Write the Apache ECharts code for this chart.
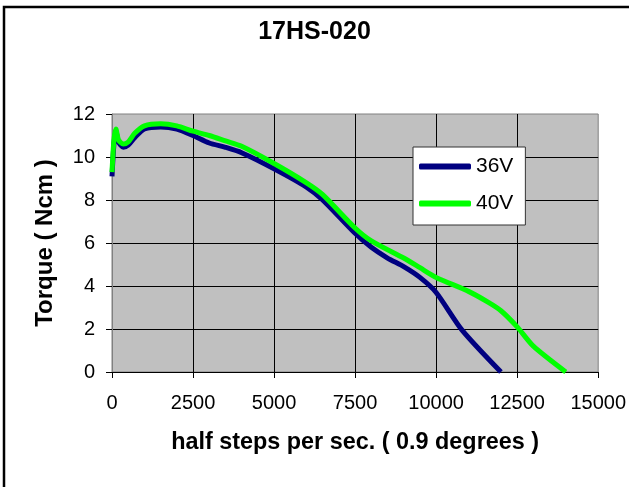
<!DOCTYPE html>
<html>
<head>
<meta charset="utf-8">
<script src="https://cdn.jsdelivr.net/npm/echarts@6/dist/echarts.min.js"></script>
<style>
    html, body { margin: 0; padding: 0; background: #fff; }
    #chart { width: 629px; height: 487px; }
</style>
</head>
<body>
<div id="chart"></div>
<script>
// torque curve
const speed36 = [0, 60, 120, 200, 350, 500, 700, 1000, 1500, 2000, 2500, 3000, 3500, 4000, 5000, 6000, 6500, 7500, 8000, 8500, 9000, 9500, 10000, 10800, 12000];
const torque36 = [9.1, 10.6, 11.2, 10.7, 10.45, 10.55, 10.9, 11.3, 11.4, 11.3, 11.0, 10.65, 10.45, 10.2, 9.45, 8.6, 8.0, 6.45, 5.8, 5.3, 4.9, 4.4, 3.7, 1.95, 0];

const speed40 = [0, 60, 120, 200, 350, 500, 700, 1000, 1500, 2000, 2500, 3000, 3500, 4000, 5000, 6000, 6500, 7500, 8000, 9000, 9500, 10000, 11000, 11600, 12000, 12500, 13000, 14000];
const torque40 = [9.3, 10.8, 11.3, 10.8, 10.6, 10.7, 11.1, 11.45, 11.55, 11.45, 11.2, 11.0, 10.75, 10.5, 9.7, 8.8, 8.25, 6.7, 6.1, 5.3, 4.85, 4.4, 3.75, 3.25, 2.85, 2.1, 1.2, 0];

const FONT = 'Liberation Sans';

const chart = echarts.init(document.getElementById('chart'));

const pairs = (xs, ys) => xs.map((x, i) => [x, ys[i]]);

chart.setOption({
    animation: false,
    textStyle: { fontFamily: FONT },
    title: {
        text: '17HS-020',
        left: 'center',
        top: 15,
        textStyle: { fontFamily: FONT, fontSize: 25, fontWeight: 'bold', color: '#000' }
    },
    graphic: [{
        type: 'rect',
        shape: { x: 4, y: 7, width: 700, height: 600 },
        style: { fill: 'none', stroke: '#000', lineWidth: 2.5 }
    }],
    legend: {
        orient: 'vertical',
        left: 413,
        top: 147,
        padding: [9, 12, 11, 6],
        itemGap: 16,
        itemWidth: 52,
        itemHeight: 6,
        icon: 'roundRect',
        backgroundColor: '#fff',
        borderColor: '#333',
        borderWidth: 1,
        textStyle: { fontFamily: FONT, fontSize: 21, color: '#000' },
        data: ['36V', '40V']
    },
    grid: {
        left: 112,
        top: 114,
        right: 30,
        bottom: 115,
        show: true,
        backgroundColor: '#c0c0c0',
        borderColor: '#808080',
        borderWidth: 1
    },
    xAxis: {
        type: 'value',
        min: 0,
        max: 15000,
        interval: 2500,
        name: 'half steps per sec. ( 0.9 degrees )',
        nameLocation: 'middle',
        nameGap: 59,
        nameTextStyle: { fontFamily: FONT, fontSize: 23.4, fontWeight: 'bold', color: '#000' },
        axisLine: { lineStyle: { color: '#000', width: 1 } },
        axisTick: { show: true, length: 6, lineStyle: { color: '#000' } },
        axisLabel: { margin: 21, fontSize: 20, color: '#000', fontFamily: FONT, formatter: v => String(v) },
        splitLine: { show: true, showMinLine: false, showMaxLine: false, lineStyle: { color: '#000', width: 1 } }
    },
    yAxis: {
        type: 'value',
        min: 0,
        max: 12,
        interval: 2,
        name: 'Torque ( Ncm )',
        nameLocation: 'middle',
        nameGap: 55,
        nameTextStyle: { fontFamily: FONT, fontSize: 24, fontWeight: 'bold', color: '#000' },
        axisLine: { show: true, lineStyle: { color: '#808080', width: 1 } },
        axisTick: { show: true, length: 6, lineStyle: { color: '#000' } },
        axisLabel: { margin: 17, fontSize: 20, color: '#000', fontFamily: FONT },
        splitLine: { show: true, showMinLine: false, showMaxLine: false, lineStyle: { color: '#000', width: 1 } }
    },
    series: [{
        name: '36V',
        type: 'line',
        data: pairs(speed36, torque36),
        smooth: 0.25,
        showSymbol: false,
        color: '#000080',
        lineStyle: { color: '#000080', width: 5 }
    }, {
        name: '40V',
        type: 'line',
        data: pairs(speed40, torque40),
        smooth: 0.25,
        showSymbol: false,
        color: '#00ff00',
        lineStyle: { color: '#00ff00', width: 5 }
    }]
});

window.addEventListener('resize', () => {
    chart.resize();
});
</script>
</body>
</html>
